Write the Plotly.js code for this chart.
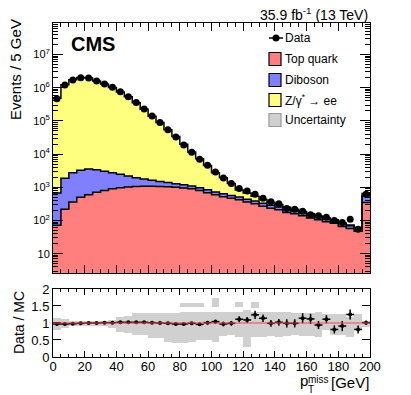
<!DOCTYPE html>
<html>
<head>
<meta charset="utf-8">
<script src="https://cdn.plot.ly/plotly-3.0.1.min.js"></script>
<style>
  html, body { margin: 0; padding: 0; background: #fff; }
  #plot { width: 411px; height: 395px; }
</style>
</head>
<body>
<div id="plot"></div>
<script>
var BIN_WIDTH = 5;

// Events per 5 GeV bin, 0-200 GeV (last bin includes overflow)
var dataEvents = [4.7e5, 1.2e6, 1.7e6, 2.0e6, 1.95e6, 1.6e6, 1.3e6, 1.03e6, 7.6e5, 5.4e5,
    3.6e5, 2.3e5, 1.4e5, 8.9e4, 5.4e4, 3.3e4, 1.9e4, 1.15e4, 7.0e3, 4.6e3,
    2.9e3, 1.9e3, 1.3e3, 930, 780, 620, 470, 370, 320, 230,
    220, 190, 150, 140, 126, 100, 88, 110, 55, 620];
var topQuark = [72, 220, 360, 500, 600, 710, 810, 910, 980, 1030,
    1060, 1070, 1070, 1060, 1040, 1010, 960, 900, 800, 690,
    600, 525, 470, 420, 360, 320, 270, 235, 210, 175,
    160, 140, 120, 105, 92, 83, 66, 58, 48, 350];
var diboson = [600, 1650, 2400, 2800, 2950, 2700, 2250, 1850, 1500, 1150,
    900, 720, 560, 440, 350, 280, 230, 190, 165, 150,
    130, 115, 100, 90, 80, 70, 60, 52, 45, 40,
    35, 30, 26, 23, 20, 17, 14, 12, 11, 200];
var dyEE = [4.8e5, 1.23e6, 1.73e6, 2.02e6, 1.95e6, 1.6e6, 1.29e6, 1.02e6, 7.4e5, 5.3e5,
    3.5e5, 2.25e5, 1.38e5, 8.8e4, 5.3e4, 3.25e4, 1.85e4, 1.06e4, 6.3e3, 3.7e3,
    2.0e3, 1.3e3, 740, 320, 230, 150, 100, 70, 50, 35,
    25, 18, 14, 10, 8, 6, 5, 4, 3, 100];

// Data / MC ratio panel
var ratio = [0.97, 0.97, 0.98, 0.99, 1.0, 1.0, 1.01, 1.01, 1.02, 1.02,
    1.02, 1.02, 1.01, 1.0, 0.99, 0.97, 0.97, 0.99, 0.96, 1.01,
    1.04, 0.97, 0.99, 1.11, 1.09, 1.24, 1.14, 0.99, 1.02, 0.99,
    0.99, 1.14, 1.12, 0.94, 1.11, 0.81, 0.91, 1.25, 0.81, 1.01];
var ratioErr = [0.01, 0.01, 0.01, 0.01, 0.01, 0.01, 0.01, 0.01, 0.01, 0.01,
    0.01, 0.01, 0.02, 0.02, 0.02, 0.02, 0.03, 0.03, 0.04, 0.05,
    0.06, 0.07, 0.07, 0.09, 0.09, 0.12, 0.11, 0.1, 0.1, 0.12,
    0.12, 0.15, 0.15, 0.12, 0.12, 0.12, 0.15, 0.15, 0.12, 0.06];
var bandLo = [0.79, 0.84, 0.9, 0.9, 0.9, 0.9, 0.9, 0.84, 0.74, 0.72,
    0.65, 0.65, 0.57, 0.55, 0.45, 0.42, 0.42, 0.45, 0.5, 0.5,
    0.45, 0.62, 0.65, 0.6, 0.3, 0.6, 0.6, 0.62, 0.6, 0.62,
    0.65, 0.62, 0.62, 0.6, 0.8, 0.65, 0.65, 0.6, 0.8, 0.88];
var bandHi = [1.14, 1.11, 1.07, 1.07, 1.07, 1.07, 1.07, 1.09, 1.19, 1.2,
    1.28, 1.28, 1.28, 1.28, 1.28, 1.3, 1.33, 1.33, 1.33, 1.33,
    1.33, 1.33, 1.33, 1.33, 1.38, 1.33, 1.33, 1.33, 1.33, 1.33,
    1.3, 1.3, 1.3, 1.33, 1.27, 1.27, 1.27, 1.17, 1.25, 1.05];
// detached upper pieces of the band
var bandExtraLo = [null, null, null, null, null, null, null, null, null, null,
    null, null, null, null, null, null, 1.48, 1.48, 1.48, null,
    1.48, null, null, 1.48, null, 1.45, null, null, null, null,
    null, null, null, null, null, null, null, null, null, null];
var bandExtraHi = [null, null, null, null, null, null, null, null, null, null,
    null, null, null, null, null, null, 1.58, 1.58, 1.58, null,
    1.73, null, null, 1.63, null, 1.63, null, null, null, null,
    null, null, null, null, null, null, null, null, null, null];

var xTickVals = [0, 20, 40, 60, 80, 100, 120, 140, 160, 180, 200];
var yTickVals = [10, 100, 1e3, 1e4, 1e5, 1e6, 1e7];
var yTickText = ['10', '10<sup>2</sup>', '10<sup>3</sup>', '10<sup>4</sup>',
    '10<sup>5</sup>', '10<sup>6</sup>', '10<sup>7</sup>'];
var ratioTickVals = [0, 0.5, 1, 1.5, 2];
var ratioTickText = ['0', '0.5', '1', '1.5', '2'];

var legendNames = ['Data', 'Top quark', 'Diboson', 'Z/\u03b3<sup>*</sup> \u2192 ee', 'Uncertainty'];
var legendColors = ['#000000', '#ff7f7f', '#7f7fff', '#ffff7f', '#d0d0d0'];

var COL_TOP = '#ff7f7f';
var COL_VV = '#7f7fff';
var COL_DY = '#ffff7f';
var COL_BAND = '#d0d0d0';
var FONT = 'Liberation Sans, Arial, Helvetica, sans-serif';

// figure geometry (pixels)
var W = 411, H = 395;
var M = { l: 53, r: 41, t: 23, b: 38 };
function px2x(px) { return (px - M.l) / (W - M.l - M.r); }
function py2y(py) { return (H - M.b - py) / (H - M.t - M.b); }

function stepX(n) {
    var xs = [];
    for (var i = 0; i <= n; i++) xs.push(i * BIN_WIDTH);
    return xs;
}
function stepY(vals) {
    return vals.concat([vals[vals.length - 1]]);
}

var nBins = dataEvents.length;
var centers = [];
for (var i = 0; i < nBins; i++) centers.push(i * BIN_WIDTH + BIN_WIDTH / 2);

var stack1 = topQuark.slice();
var stack2 = [], stack3 = [];
for (var j = 0; j < nBins; j++) {
    stack2.push(stack1[j] + diboson[j]);
    stack3.push(stack2[j] + dyEE[j]);
}

var edges = stepX(nBins);

var traceTop = {
    x: edges, y: stepY(stack1), mode: 'lines', line: { shape: 'hv', color: '#000', width: 1.5 },
    fill: 'tozeroy', fillcolor: COL_TOP, showlegend: false, hoverinfo: 'skip',
    xaxis: 'x', yaxis: 'y'
};
var traceVV = {
    x: edges, y: stepY(stack2), mode: 'lines', line: { shape: 'hv', color: '#000', width: 1.5 },
    fill: 'tonexty', fillcolor: COL_VV, showlegend: false, hoverinfo: 'skip',
    xaxis: 'x', yaxis: 'y'
};
var traceDY = {
    x: edges, y: stepY(stack3), mode: 'lines', line: { shape: 'hv', color: '#000', width: 1.5 },
    fill: 'tonexty', fillcolor: COL_DY, showlegend: false, hoverinfo: 'skip',
    xaxis: 'x', yaxis: 'y'
};
var traceData = {
    x: centers, y: dataEvents, mode: 'markers',
    marker: { color: '#000', size: 7 },
    showlegend: false, xaxis: 'x', yaxis: 'y'
};

var bandBase = [], bandSize = [], extraBase = [], extraSize = [];
for (var k = 0; k < nBins; k++) {
    bandBase.push(bandLo[k]);
    bandSize.push(bandHi[k] - bandLo[k]);
    extraBase.push(bandExtraLo[k]);
    extraSize.push(bandExtraLo[k] === null ? null : bandExtraHi[k] - bandExtraLo[k]);
}
var traceBand = {
    type: 'bar', x: centers, y: bandSize, base: bandBase, width: BIN_WIDTH,
    marker: { color: COL_BAND, line: { width: 0 } },
    showlegend: false, hoverinfo: 'skip', xaxis: 'x2', yaxis: 'y2'
};
var traceBandExtra = {
    type: 'bar', x: centers, y: extraSize, base: extraBase, width: BIN_WIDTH,
    marker: { color: COL_BAND, line: { width: 0 } },
    showlegend: false, hoverinfo: 'skip', xaxis: 'x2', yaxis: 'y2'
};
var traceRatio = {
    x: centers, y: ratio, mode: 'markers',
    marker: { color: '#000', size: 4 },
    error_y: { type: 'data', array: ratioErr, color: '#000', thickness: 1.5, width: 0 },
    error_x: { type: 'constant', value: BIN_WIDTH / 2, color: '#000', thickness: 1.5, width: 0 },
    showlegend: false, xaxis: 'x2', yaxis: 'y2'
};

// minor ticks for the log axis
var logMinor = [];
for (var d = 0; d < 8; d++) {
    for (var m = 2; m < 10; m++) logMinor.push(m * Math.pow(10, d));
}

var axisCommon = {
    showline: true, linecolor: '#000', linewidth: 1, mirror: 'ticks',
    ticks: 'inside', tickcolor: '#000', zeroline: false, showgrid: false,
    tickfont: { family: FONT, color: '#000' }
};

function merge(a, b) {
    var o = {};
    for (var p in a) o[p] = a[p];
    for (var q in b) o[q] = b[q];
    return o;
}

function label(text, px, py, size, anchor, extra) {
    var a = {
        text: text, xref: 'paper', yref: 'paper', x: px2x(px), y: py2y(py),
        xanchor: anchor, yanchor: 'middle', showarrow: false,
        font: { family: FONT, size: size, color: '#000' }
    };
    if (extra) for (var p in extra) a[p] = extra[p];
    return a;
}

var shapes = [
    { type: 'line', xref: 'x2', yref: 'y2', x0: 0, x1: 200, y0: 1, y1: 1,
      line: { color: '#ff4040', width: 1 }, layer: 'above' }
];
var annotations = [
    label('<b>CMS</b>', 69, 44, 20, 'left'),
    label('35.9 fb<sup>-1</sup> (13 TeV)', 370, 14, 14, 'right'),
    label('Events / 5 GeV', 15, 70, 15, 'center', { textangle: -90 }),
    label('Data / MC', 19, 323, 14, 'center', { textangle: -90 }),
    // ROOT-style stacked sub/superscript: p, miss over T, then unit
    label('p', 298, 381, 15, 'left'),
    label('miss', 306, 379, 10, 'left'),
    label('T', 306, 389, 10, 'left'),
    label('[GeV]', 371, 382, 15, 'right')
];

// hand-made legend in the ROOT style
var legRows = [38, 59, 80, 100, 120];
for (var r = 0; r < legendNames.length; r++) {
    var cy = legRows[r];
    annotations.push(label(legendNames[r], 283, cy, 12, 'left'));
    if (r === 0) {
        shapes.push({ type: 'line', xref: 'paper', yref: 'paper', x0: px2x(269), x1: px2x(283),
            y0: py2y(cy), y1: py2y(cy), line: { color: '#000', width: 1.5 } });
        shapes.push({ type: 'circle', xref: 'paper', yref: 'paper', x0: px2x(272.5), x1: px2x(279.5),
            y0: py2y(cy - 3.5), y1: py2y(cy + 3.5), fillcolor: '#000', line: { width: 0 } });
    } else {
        var last = r === legendNames.length - 1;
        shapes.push({ type: 'rect', xref: 'paper', yref: 'paper', x0: px2x(269), x1: px2x(281),
            y0: py2y(cy - 6.5), y1: py2y(cy + 6.5), fillcolor: legendColors[r],
            line: { color: last ? '#999' : '#000', width: 1.2 } });
    }
}

var layout = {
    width: W, height: H,
    margin: M,
    paper_bgcolor: '#fff', plot_bgcolor: '#fff',
    showlegend: false,
    barmode: 'overlay', bargap: 0,
    xaxis: merge(axisCommon, {
        domain: [0, 1], anchor: 'y', range: [0, 200], tickvals: xTickVals,
        showticklabels: false, ticklen: 8,
        minor: { dtick: 5, ticks: 'inside', ticklen: 4, tickcolor: '#000' }
    }),
    yaxis: merge(axisCommon, {
        domain: [0.2515, 1], anchor: 'x', type: 'log', range: [0.42, 7.95],
        tickvals: yTickVals, ticktext: yTickText, ticklen: 10,
        tickfont: { family: FONT, size: 11, color: '#000' },
        minor: { tickvals: logMinor, ticks: 'inside', ticklen: 5, tickcolor: '#000' }
    }),
    xaxis2: merge(axisCommon, {
        domain: [0, 1], anchor: 'y2', range: [0, 200], tickvals: xTickVals, ticklen: 6,
        tickfont: { family: FONT, size: 13, color: '#000' }, ticklabelstandoff: -3,
        minor: { dtick: 5, ticks: 'inside', ticklen: 3, tickcolor: '#000' }
    }),
    yaxis2: merge(axisCommon, {
        domain: [0, 0.2036], anchor: 'x2', range: [0, 2],
        tickvals: ratioTickVals, ticktext: ratioTickText, ticklen: 8,
        tickfont: { family: FONT, size: 13, color: '#000' }
    }),
    shapes: shapes,
    annotations: annotations
};

Plotly.newPlot('plot',
    [traceBand, traceBandExtra, traceTop, traceVV, traceDY, traceData, traceRatio],
    layout, { displayModeBar: false, staticPlot: true });
</script>
</body>
</html>
